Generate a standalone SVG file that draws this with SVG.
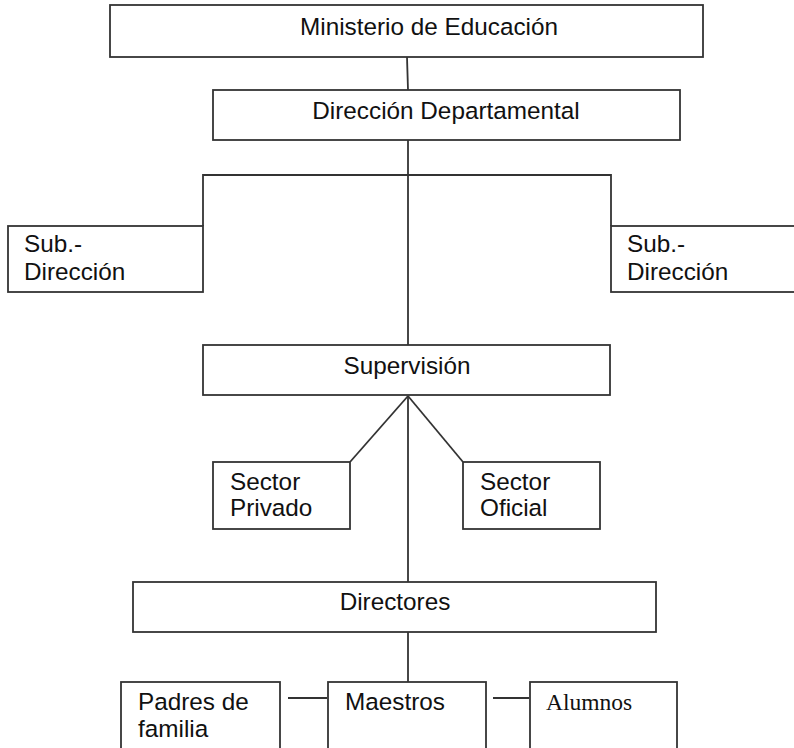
<svg xmlns="http://www.w3.org/2000/svg" width="794" height="748" viewBox="0 0 794 748">
<style>
.box{fill:#fff;stroke:#333;stroke-width:1.8}
.ln{fill:none;stroke:#333;stroke-width:1.8}
.t{font-family:"Liberation Sans",Arial,sans-serif;font-size:24.3px;fill:#111}
.c{text-anchor:middle}
.s{font-family:"Liberation Serif","Times New Roman",serif;font-size:23.5px;fill:#111}
</style>
<rect width="794" height="748" fill="#fff"/>
<g id="connectors">
<line class="ln" x1="407" y1="57" x2="408" y2="90"/>
<line class="ln" x1="408" y1="140" x2="408" y2="345"/>
<polyline class="ln" points="203,226 203,175 611,175 611,226"/>
<line class="ln" x1="408" y1="396" x2="408" y2="582"/>
<line class="ln" x1="408" y1="396" x2="350" y2="462"/>
<line class="ln" x1="408" y1="396" x2="463" y2="462"/>
<line class="ln" x1="408" y1="632" x2="408" y2="682"/>
<line class="ln" x1="288" y1="698" x2="327" y2="698"/>
<line class="ln" x1="493" y1="698" x2="529" y2="698"/>
</g>
<g id="ministerio"><rect class="box" x="110" y="5" width="593" height="52"/><text class="t c" x="429" y="35">Ministerio de Educación</text></g>
<g id="direccion"><rect class="box" x="213" y="90" width="467" height="50"/><text class="t c" x="446" y="119">Dirección Departamental</text></g>
<g id="sub-left"><rect class="box" x="8" y="226" width="195" height="66"/><text class="t" x="24" y="252">Sub.-</text><text class="t" x="24" y="280">Dirección</text></g>
<g id="sub-right"><rect class="box" x="611" y="226" width="200" height="66"/><text class="t" x="627" y="252">Sub.-</text><text class="t" x="627" y="280">Dirección</text></g>
<g id="supervision"><rect class="box" x="203" y="345" width="407" height="50"/><text class="t c" x="407" y="374">Supervisión</text></g>
<g id="privado"><rect class="box" x="213" y="462" width="137" height="67"/><text class="t" x="230" y="490">Sector</text><text class="t" x="230" y="516">Privado</text></g>
<g id="oficial"><rect class="box" x="463" y="462" width="137" height="67"/><text class="t" x="480" y="490">Sector</text><text class="t" x="480" y="516">Oficial</text></g>
<g id="directores"><rect class="box" x="133" y="582" width="523" height="50"/><text class="t c" x="395" y="610">Directores</text></g>
<g id="padres"><rect class="box" x="121" y="682" width="159" height="80"/><text class="t" x="138" y="710">Padres de</text><text class="t" x="138" y="737">familia</text></g>
<g id="maestros"><rect class="box" x="328" y="682" width="158" height="80"/><text class="t" x="345" y="710">Maestros</text></g>
<g id="alumnos"><rect class="box" x="530" y="682" width="147" height="80"/><text class="s" x="546" y="710">Alumnos</text></g>
</svg>
